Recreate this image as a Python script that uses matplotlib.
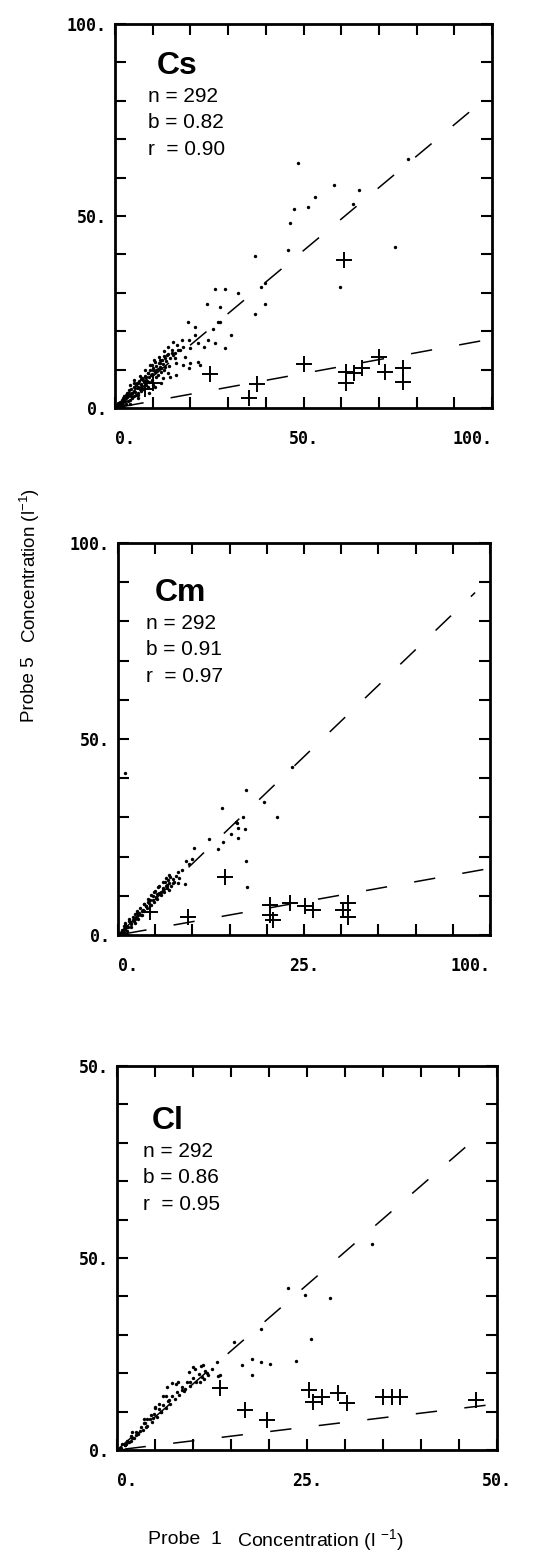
import numpy as np
import matplotlib.pyplot as plt

plt.rcParams['font.family'] = ['Liberation Sans', 'DejaVu Sans']
plt.rcParams['mathtext.fontset'] = 'custom'
plt.rcParams['mathtext.rm'] = 'Liberation Sans'
plt.rcParams['mathtext.it'] = 'Liberation Sans'

# ---- Cs panel ----
cs_dot_x = [48.5, 58.1, 64.7, 53.0, 51.1, 47.6, 63.2, 46.4, 77.7, 74.4, 46.0, 37.2,
            59.7, 39.7, 38.6, 39.7, 37.2, 32.6, 26.5, 29.1, 24.3, 27.8, 27.4, 19.3,
            21.2, 26.0, 27.9, 21.2, 30.8, 24.8, 19.5, 22.1, 26.6, 29.2, 23.5, 15.5,
            14.1, 18.1, 16.8, 19.9, 15.0, 13.7, 15.9, 18.6, 19.9, 22.1, 22.6, 19.5,
            11.9, 10.6, 12.3, 10.1, 8.8, 11.5, 14.1, 16.3, 7.5, 9.7, 12.3, 6.1,
            6.6, 8.8, 10.6, 5.2, 18.1, 16.3, 13.2, 9.7, 7.9, 12.8, 14.6,
            1.0, 1.5, 2.0, 2.5, 3.0, 3.0, 3.5, 4.0, 4.0, 4.5, 5.0, 5.0, 5.5, 6.0,
            6.5, 7.0, 7.0, 7.5, 8.0, 8.5, 2.0, 0.5, 1.0, 0.3, 3.5, 6.0, 4.0, 2.5,
            5.0, 9.0, 10.0, 1.2, 2.2, 3.2, 4.2, 5.8, 6.8, 8.2, 9.5, 11.0, 12.0, 13.0,
            5.5, 6.0, 6.3, 6.8, 7.2, 7.6, 8.0, 8.3, 8.7, 9.1, 9.4, 9.8, 10.2, 10.5,
            10.9, 11.3, 11.6, 12.0, 12.4, 12.8, 13.3, 13.6, 14.0, 14.5, 15.0, 15.4,
            16.0, 16.5, 17.2, 17.8, 4.2, 4.6, 5.1, 3.8, 3.3, 2.8, 2.3, 1.8, 1.4,
            0.8, 0.6, 1.9, 2.7, 3.6, 4.4, 5.3, 6.2, 7.1, 8.1, 9.0, 9.9, 11.0, 12.1,
            13.0, 14.2, 7.9, 9.2, 10.4, 11.7, 13.1, 6.5, 5.0, 4.0]
cs_dot_y = [63.9, 58.1, 56.8, 54.9, 52.3, 51.7, 53.1, 48.3, 64.9, 41.8, 41.1, 39.6,
            31.6, 32.6, 31.4, 27.1, 24.5, 29.9, 30.9, 30.9, 27.1, 26.2, 22.5, 22.5,
            21.0, 20.5, 22.5, 19.0, 19.0, 17.7, 17.7, 17.0, 16.8, 15.5, 16.0, 17.3,
            16.0, 16.0, 15.1, 15.5, 14.2, 13.8, 12.9, 13.4, 11.6, 12.1, 11.2, 10.3,
            11.6, 12.1, 10.3, 9.9, 9.0, 8.6, 9.0, 8.6, 7.3, 6.9, 6.4, 6.4,
            5.1, 5.4, 5.5, 5.1, 11.2, 11.6, 10.8, 11.2, 8.2, 7.7, 8.2,
            1.0, 0.5, 1.5, 2.0, 2.5, 1.0, 3.0, 3.5, 2.0, 4.0, 3.0, 4.5, 3.5, 4.0,
            5.0, 4.5, 6.0, 5.0, 6.5, 7.0, 0.8, 0.5, 0.2, 0.1, 1.8, 2.5, 1.0, 3.0,
            5.5, 4.0, 6.0, 1.6, 2.6, 3.8, 3.0, 6.5, 7.5, 8.0, 8.5, 10.0, 12.5, 13.5,
            6.0, 5.5, 7.0, 6.2, 7.8, 6.9, 8.4, 7.4, 9.2, 8.0, 9.8, 8.8, 10.5, 9.4,
            11.0, 10.1, 11.8, 10.8, 12.6, 11.5, 13.0, 12.2, 14.1, 12.9, 15.2, 13.7,
            14.4, 16.5, 15.0, 17.8, 5.0, 3.8, 6.6, 4.6, 2.8, 3.4, 2.6, 2.2, 1.0,
            1.3, 0.9, 1.2, 1.9, 3.9, 2.7, 4.2, 3.3, 5.6, 5.9, 6.8, 7.3, 8.0, 9.4,
            9.9, 10.9, 9.9, 11.1, 12.6, 13.4, 14.9, 8.3, 7.2, 6.0]
cs_cross_x = [60.8, 25.3, 37.6, 35.5, 50.1, 61.3, 61.3, 63.5, 65.6, 70.1, 71.5, 76.3, 76.3, 8.0, 10.0]
cs_cross_y = [38.5, 8.9, 6.3, 2.6, 11.5, 9.4, 6.5, 9.1, 10.4, 13.3, 9.4, 10.4, 6.8, 5.0, 6.5]

# ---- Cm panel ----
cm_dot_x = [1.9, 46.9, 34.4, 39.3, 27.9, 42.8, 32.3, 33.7, 31.7, 34.1, 30.3, 32.3,
            24.5, 28.3, 26.8, 20.5, 19.8, 18.3, 19.2, 34.4, 16.2, 14.0, 13.5, 12.6,
            14.9, 18.0, 10.8, 34.8, 13.1, 31.9, 11.5, 12.0, 13.8, 9.5, 8.5, 9.8,
            10.5, 7.5, 6.5, 5.5, 4.5, 3.5, 2.5, 1.5, 1.0, 0.5, 2.0, 3.0, 4.0,
            5.0, 6.0, 7.0, 8.0, 3.5, 2.5, 1.5, 4.5, 5.5, 6.5,
            0.8, 1.2, 1.8, 2.2, 2.6, 3.1, 3.4, 3.9, 4.3, 4.8, 5.2, 5.7, 6.1, 6.6,
            7.0, 7.5, 7.9, 8.4, 8.8, 9.3, 9.7, 10.2, 10.6, 11.1, 11.5, 12.0, 12.4,
            12.9, 13.3, 13.8, 14.2, 14.7, 15.1, 15.6, 16.4, 17.2, 12.2, 13.0, 13.6,
            11.0, 9.0, 6.9, 5.1, 3.0, 2.0, 4.5, 8.0, 10.0, 1.5, 16.0]
cm_dot_y = [41.4, 42.9, 37.0, 34.0, 32.3, 30.2, 27.2, 30.2, 28.9, 27.0, 25.7, 24.8,
            24.4, 23.8, 21.9, 22.1, 19.4, 19.0, 18.1, 19.0, 16.1, 14.9, 14.0, 13.6,
            13.2, 12.9, 12.3, 12.2, 12.8, 28.6, 11.0, 12.0, 11.5, 10.0, 9.0, 11.0,
            10.5, 7.5, 6.0, 5.0, 4.0, 3.0, 2.0, 1.5, 0.8, 0.5, 2.5, 3.5, 4.5,
            5.5, 7.0, 8.0, 8.5, 2.0, 1.0, 0.8, 3.0, 4.0, 5.0,
            0.6, 1.4, 1.6, 2.4, 2.0, 3.2, 2.7, 3.9, 3.6, 4.7, 4.3, 5.6, 5.2, 6.5,
            6.0, 7.3, 6.8, 8.1, 7.6, 9.0, 8.4, 9.8, 9.3, 10.7, 10.2, 11.6, 11.0,
            12.4, 11.9, 13.3, 12.6, 14.2, 13.5, 15.0, 14.5, 16.5, 13.6, 14.6, 15.3,
            12.4, 10.2, 7.8, 6.0, 4.0, 3.1, 5.4, 9.2, 11.3, 2.3, 13.2]
cm_cross_x = [28.8, 8.6, 18.8, 40.9, 40.9, 41.7, 46.2, 50.3, 52.4, 60.5, 61.8, 61.8]
cm_cross_y = [14.8, 5.9, 4.6, 7.7, 5.1, 3.8, 8.2, 7.4, 6.4, 6.4, 8.2, 4.6]

# ---- Cl panel ----
cl_dot_x = [33.5, 22.5, 24.7, 28.0, 25.5, 18.9, 15.4, 16.4, 17.7, 18.9, 20.1, 23.6,
            17.7, 13.2, 10.0, 11.3, 13.6, 13.3, 11.8, 11.4, 10.9, 9.6, 7.2, 7.7,
            6.6, 6.0, 5.5, 5.0, 4.5, 4.0, 3.5, 3.0, 2.5, 2.0, 1.5, 1.0, 0.5,
            8.5, 9.0, 6.8, 5.8, 4.8, 3.8, 2.8, 1.8, 1.2,
            0.4, 0.7, 1.0, 1.3, 1.6, 1.9, 2.2, 2.5, 2.8, 3.1, 3.4, 3.7, 4.0, 4.3,
            4.6, 4.9, 5.2, 5.5, 5.8, 6.1, 6.4, 6.7, 7.0, 7.3, 7.6, 7.9, 8.2, 8.5,
            8.8, 9.2, 9.6, 10.0, 10.4, 10.8, 11.2, 11.6, 12.0, 12.5, 9.5, 10.2,
            11.0, 6.5, 5.0, 3.5, 2.0, 8.0]
cl_dot_y = [26.8, 21.1, 20.2, 19.8, 14.4, 15.8, 14.0, 11.1, 11.9, 11.5, 11.2, 11.6,
            9.8, 11.4, 10.8, 11.1, 9.8, 9.6, 10.0, 9.3, 8.9, 8.9, 8.7, 8.6,
            8.2, 7.0, 6.0, 5.5, 4.5, 4.0, 3.5, 2.5, 2.0, 1.5, 1.0, 0.6, 0.3,
            7.8, 8.0, 6.5, 5.0, 4.2, 3.0, 2.2, 1.2, 0.8,
            0.3, 0.8, 0.6, 1.2, 1.0, 1.8, 1.5, 2.4, 2.1, 3.0, 2.6, 3.5, 3.1, 4.1,
            3.7, 4.7, 4.3, 5.3, 4.9, 5.9, 5.5, 6.4, 6.0, 7.0, 6.6, 7.6, 7.2, 8.2,
            7.7, 8.8, 8.3, 9.4, 8.9, 9.9, 9.5, 10.3, 9.8, 10.6, 10.2, 10.6,
            10.9, 7.0, 5.6, 4.0, 2.4, 8.8]
cl_cross_x = [13.6, 16.8, 19.7, 25.3, 25.8, 27.0, 29.1, 30.3, 35.0, 36.2, 37.2, 47.2]
cl_cross_y = [8.1, 5.2, 3.9, 7.8, 6.3, 6.9, 7.4, 6.1, 6.9, 6.9, 6.9, 6.5]

# fitted slopes (dots, crosses)
slopes = {'Cs': (0.82, 0.18), 'Cm': (0.91, 0.17), 'Cl': (0.86, 0.12)}
stats = {'Cs': ('292', '0.82', '0.90'), 'Cm': ('292', '0.91', '0.97'), 'Cl': ('292', '0.86', '0.95')}

W, H = 535, 1564
fig = plt.figure(figsize=(W / 100, H / 100), dpi=100)


def add_ax(left, top, right, bottom):
    return fig.add_axes([left / W, 1 - bottom / H, (right - left) / W, (bottom - top) / H])


def ftext(px, py, s, **kw):
    # text placed in figure pixel coordinates (y from top)
    return fig.text(px / W, 1 - py / H, s, **kw)


tick_font = dict(family='DejaVu Sans Mono', weight='bold', size=12)


def panel(ax, name, dx, dy, cx, cy, lim, xlabels, ylabels, label_px, last_right):
    b1, b2 = slopes[name]
    ax.scatter(dx, dy, s=6, c='black', linewidths=0)
    ax.plot(cx, cy, '+', color='black', ms=11, mew=1.4)
    ax.plot([0, 0.96 * lim], [0, b1 * 0.96 * lim], color='black', lw=1.1,
            linestyle=(0, (14, 18)))
    ax.plot([0.02 * lim, 0.99 * lim], [b2 * 0.02 * lim, b2 * 0.99 * lim], color='black',
            lw=1.1, linestyle=(0, (14, 18)))
    ax.set_xlim(0, lim)
    ax.set_ylim(0, lim)
    ticks = np.linspace(0, lim, 11)
    ax.set_xticks(ticks)
    ax.set_yticks(ticks)
    ax.set_xticklabels([xlabels.get(i, '') for i in range(11)], **tick_font)
    ax.set_yticklabels([ylabels.get(i, '') for i in range(11)], **tick_font)
    ax.tick_params(direction='in', length=8, width=1.5, top=True, right=True, pad=6)
    ax.tick_params(axis='x', pad=16)
    xt = ax.get_xticklabels()
    xt[0].set_ha('left')
    if last_right:
        xt[-1].set_ha('right')
    for s in ax.spines.values():
        s.set_linewidth(2)
    tx, ty = label_px
    ftext(tx, ty, name, fontsize=23, fontweight='bold', va='top')
    n, b, r = stats[name]
    ftext(tx - 9, ty + 51, 'n = ' + n, fontsize=15, va='baseline')
    ftext(tx - 9, ty + 77, 'b = ' + b, fontsize=15, va='baseline')
    ftext(tx - 9, ty + 104, 'r  = ' + r, fontsize=15, va='baseline')


ax1 = add_ax(115, 24, 492, 408)
ax2 = add_ax(118, 543, 490, 935)
ax3 = add_ax(117, 1066, 497, 1450)

panel(ax1, 'Cs', cs_dot_x, cs_dot_y, cs_cross_x, cs_cross_y, 100,
      {0: '0.', 5: '50.', 10: '100.'}, {0: '0.', 5: '50.', 10: '100.'}, (157, 51), True)
panel(ax2, 'Cm', cm_dot_x, cm_dot_y, cm_cross_x, cm_cross_y, 100,
      {0: '0.', 5: '25.', 10: '100.'}, {0: '0.', 5: '50.', 10: '100.'}, (155, 578), True)
panel(ax3, 'Cl', cl_dot_x, cl_dot_y, cl_cross_x, cl_cross_y, 50,
      {0: '0.', 5: '25.', 10: '50.'}, {0: '0.', 5: '50.', 10: '50.'}, (152, 1106), False)

ftext(30, 722, 'Probe 5', rotation=90, fontsize=13.5, ha='center', va='bottom')
ftext(30, 643, 'Concentration (l$^{-1}$)', rotation=90, fontsize=13.5, ha='center', va='bottom')
ftext(148, 1540, 'Probe  1', fontsize=14, ha='left', va='center')
ftext(237, 1540, 'Concentration (l $^{-1}$)', fontsize=14, ha='left', va='center')

fig.savefig('out.png', dpi=100)
